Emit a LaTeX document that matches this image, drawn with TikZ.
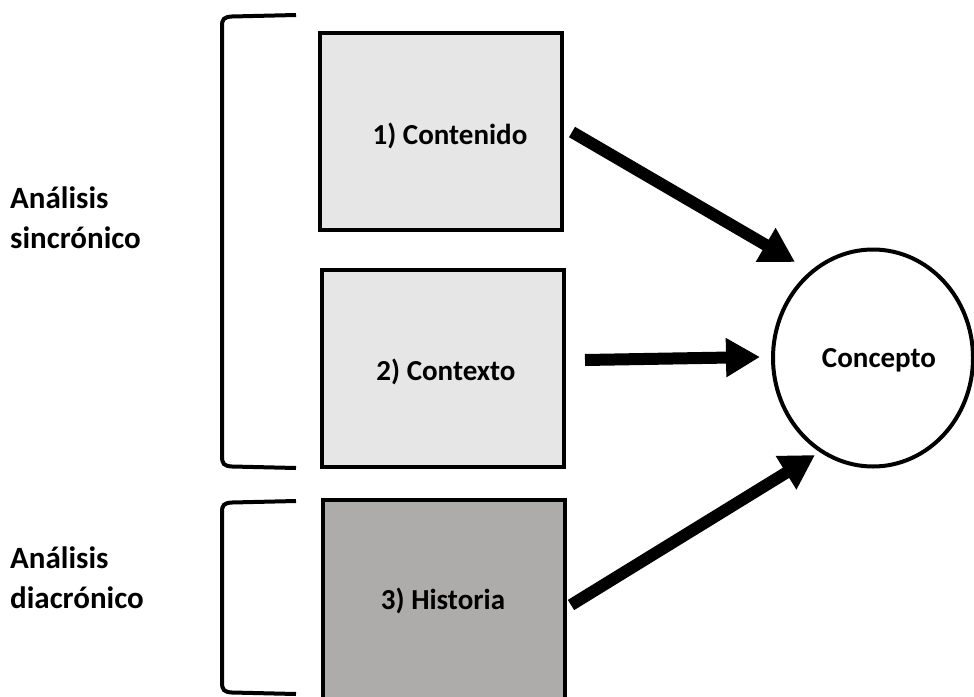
\documentclass[tikz,border=0pt]{standalone}
\usepackage{fontspec}
\setmainfont{Carlito}
\usetikzlibrary{arrows.meta,shapes.geometric,calc}
\definecolor{boxlight}{HTML}{E7E6E6}
\definecolor{boxdark}{HTML}{AEABAB}
\begin{document}
\begin{tikzpicture}[x=1pt,y=-1pt,
  stage/.style={draw=black,line width=4pt,minimum width=242pt,minimum height=197pt,inner sep=0pt},
  lbl/.style={font=\fontsize{29}{34}\selectfont\bfseries},
  side/.style={font=\fontsize{31}{40}\selectfont\bfseries,align=left,anchor=west,inner sep=0pt},
  bigarrow/.style={line width=12pt,-{Triangle[length=34pt,width=37pt]}},
  brace/.style={line width=4pt,line cap=butt}]
\useasboundingbox (0,0) rectangle (974,696);
\begin{scope}
\clip (0,0) rectangle (974,696);
% stages
\node[stage,fill=boxlight] (box1) at (441,131) {};
\node[stage,fill=boxlight] (box2) at (443,368) {};
\node[stage,fill=boxdark,minimum height=200pt] (box3) at (444,600) {};
\node[lbl] (t1) at (450,136) {1) Contenido};
\node[lbl] (t2) at (446,372) {2) Contexto};
\node[lbl] (t3) at (443,601) {3) Historia};
% target
\node[ellipse,draw=black,line width=4pt,minimum width=200pt,minimum height=217pt,inner sep=0pt] (concept) at (873,358) {};
\node[font=\fontsize{29}{34}\selectfont\bfseries] (ct) at (879,360) {Concepto};
% brackets
\draw[brace] (296,15) -- (232,16.5) .. controls (224,17) and (222,19) .. (222,26) -- (222,456) .. controls (222,464) and (224,466) .. (232,466.5) -- (296,468);
\draw[brace] (296,501) -- (232,502.5) .. controls (224,503) and (222,505) .. (222,512) -- (222,682) .. controls (222,690) and (224,692) .. (232,692.5) -- (296,694);
% side labels
\node[side] (sync) at (10,218) {Análisis\\sincrónico};
\node[side] (diac) at (10,578) {Análisis\\diacrónico};
% arrows
\coordinate (tip1) at (795,262);
\coordinate (tip2) at (760,357);
\coordinate (tip3) at (815,455);
\draw[bigarrow] ($(box1.east)+(8,1)$) -- (tip1);
\draw[bigarrow] ($(box2.east)+(19,-8)$) -- (tip2);
\draw[bigarrow] ($(box3.east)+(4,5)$) -- (tip3);
\end{scope}
\end{tikzpicture}
\end{document}
